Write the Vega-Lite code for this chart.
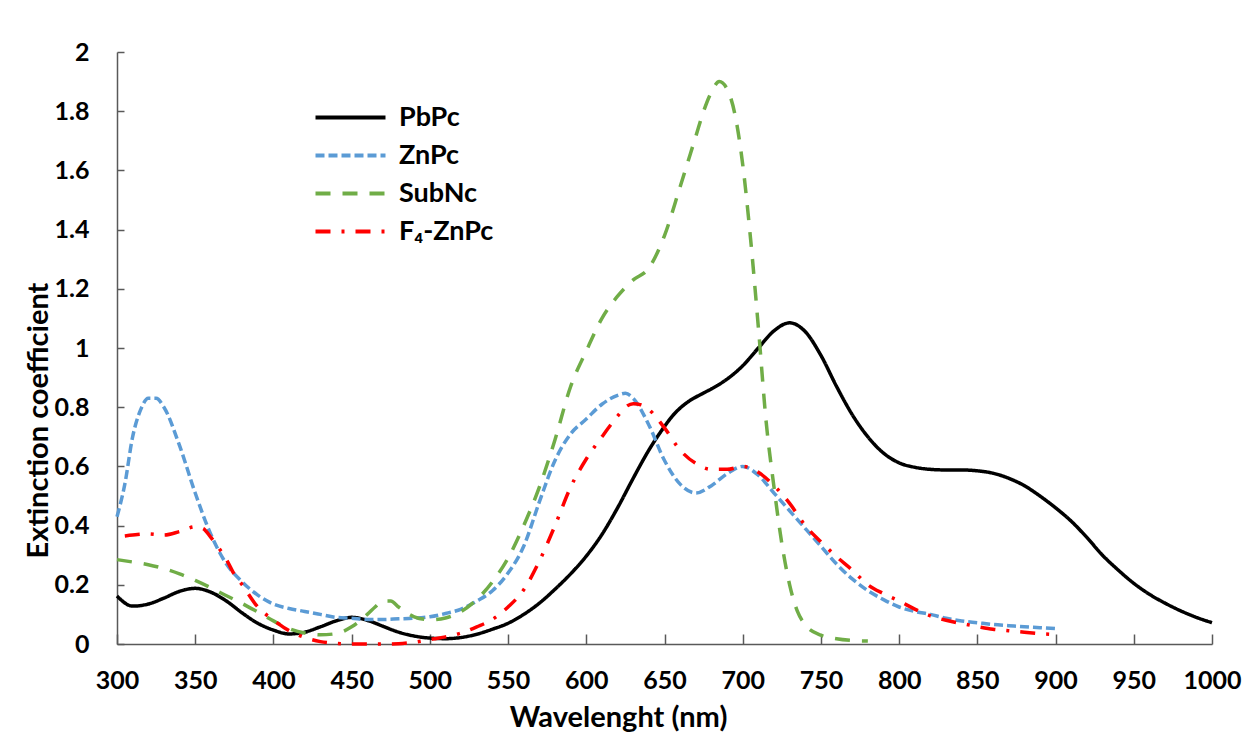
{
  "$schema": "https://vega.github.io/schema/vega-lite/v6.json",
  "autosize": "none",
  "width": 1095,
  "height": 592,
  "padding": {"left": 117, "top": 52, "right": 36, "bottom": 90},
  "background": "white",
  "config": {
    "view": {"stroke": null},
    "font": "Lato",
    "axis": {"grid": false, "domainColor": "#595959", "tickColor": "#595959", "domainWidth": 1.5, "tickWidth": 1.5, "labelColor": "#000", "titleColor": "#000", "labelFont": "Lato", "titleFont": "Lato", "labelFontWeight": "bold", "titleFontWeight": "bold", "labelFontSize": 25, "titleFontSize": 29, "labelOverlap": false, "labelFlush": false}
  },
  "data": {"values": [
    {"s":"PbPc","x":300,"y":0.162},{"s":"PbPc","x":310,"y":0.128},{"s":"PbPc","x":320,"y":0.135},{"s":"PbPc","x":330,"y":0.155},{"s":"PbPc","x":340,"y":0.178},{"s":"PbPc","x":350,"y":0.188},{"s":"PbPc","x":360,"y":0.175},{"s":"PbPc","x":370,"y":0.145},{"s":"PbPc","x":380,"y":0.105},{"s":"PbPc","x":390,"y":0.07},{"s":"PbPc","x":400,"y":0.047},{"s":"PbPc","x":410,"y":0.034},{"s":"PbPc","x":420,"y":0.04},{"s":"PbPc","x":430,"y":0.058},{"s":"PbPc","x":440,"y":0.078},{"s":"PbPc","x":450,"y":0.09},{"s":"PbPc","x":460,"y":0.08},{"s":"PbPc","x":470,"y":0.06},{"s":"PbPc","x":480,"y":0.04},{"s":"PbPc","x":490,"y":0.027},{"s":"PbPc","x":500,"y":0.02},{"s":"PbPc","x":510,"y":0.018},{"s":"PbPc","x":520,"y":0.022},{"s":"PbPc","x":530,"y":0.033},{"s":"PbPc","x":540,"y":0.05},{"s":"PbPc","x":550,"y":0.07},{"s":"PbPc","x":560,"y":0.1},{"s":"PbPc","x":570,"y":0.138},{"s":"PbPc","x":580,"y":0.185},{"s":"PbPc","x":590,"y":0.237},{"s":"PbPc","x":600,"y":0.297},{"s":"PbPc","x":610,"y":0.37},{"s":"PbPc","x":620,"y":0.46},{"s":"PbPc","x":630,"y":0.56},{"s":"PbPc","x":640,"y":0.655},{"s":"PbPc","x":650,"y":0.735},{"s":"PbPc","x":655,"y":0.77},{"s":"PbPc","x":660,"y":0.797},{"s":"PbPc","x":665,"y":0.818},{"s":"PbPc","x":670,"y":0.834},{"s":"PbPc","x":675,"y":0.848},{"s":"PbPc","x":680,"y":0.862},{"s":"PbPc","x":690,"y":0.895},{"s":"PbPc","x":700,"y":0.94},{"s":"PbPc","x":710,"y":1.0},{"s":"PbPc","x":720,"y":1.058},{"s":"PbPc","x":730,"y":1.085},{"s":"PbPc","x":740,"y":1.055},{"s":"PbPc","x":750,"y":0.975},{"s":"PbPc","x":760,"y":0.87},{"s":"PbPc","x":770,"y":0.775},{"s":"PbPc","x":780,"y":0.7},{"s":"PbPc","x":790,"y":0.645},{"s":"PbPc","x":800,"y":0.612},{"s":"PbPc","x":810,"y":0.597},{"s":"PbPc","x":820,"y":0.59},{"s":"PbPc","x":830,"y":0.588},{"s":"PbPc","x":840,"y":0.588},{"s":"PbPc","x":850,"y":0.585},{"s":"PbPc","x":860,"y":0.577},{"s":"PbPc","x":870,"y":0.56},{"s":"PbPc","x":880,"y":0.535},{"s":"PbPc","x":890,"y":0.5},{"s":"PbPc","x":900,"y":0.46},{"s":"PbPc","x":910,"y":0.415},{"s":"PbPc","x":920,"y":0.36},{"s":"PbPc","x":930,"y":0.3},{"s":"PbPc","x":940,"y":0.25},{"s":"PbPc","x":950,"y":0.205},{"s":"PbPc","x":960,"y":0.168},{"s":"PbPc","x":970,"y":0.138},{"s":"PbPc","x":980,"y":0.112},{"s":"PbPc","x":990,"y":0.09},{"s":"PbPc","x":1000,"y":0.072},
    {"s":"ZnPc","x":300,"y":0.43},{"s":"ZnPc","x":305,"y":0.54},{"s":"ZnPc","x":310,"y":0.7},{"s":"ZnPc","x":315,"y":0.79},{"s":"ZnPc","x":320,"y":0.83},{"s":"ZnPc","x":325,"y":0.83},{"s":"ZnPc","x":330,"y":0.8},{"s":"ZnPc","x":340,"y":0.67},{"s":"ZnPc","x":350,"y":0.51},{"s":"ZnPc","x":360,"y":0.37},{"s":"ZnPc","x":370,"y":0.27},{"s":"ZnPc","x":380,"y":0.21},{"s":"ZnPc","x":390,"y":0.165},{"s":"ZnPc","x":400,"y":0.135},{"s":"ZnPc","x":410,"y":0.12},{"s":"ZnPc","x":420,"y":0.11},{"s":"ZnPc","x":430,"y":0.1},{"s":"ZnPc","x":440,"y":0.09},{"s":"ZnPc","x":450,"y":0.087},{"s":"ZnPc","x":460,"y":0.083},{"s":"ZnPc","x":470,"y":0.083},{"s":"ZnPc","x":480,"y":0.085},{"s":"ZnPc","x":490,"y":0.087},{"s":"ZnPc","x":500,"y":0.092},{"s":"ZnPc","x":510,"y":0.103},{"s":"ZnPc","x":520,"y":0.118},{"s":"ZnPc","x":530,"y":0.145},{"s":"ZnPc","x":540,"y":0.18},{"s":"ZnPc","x":550,"y":0.24},{"s":"ZnPc","x":560,"y":0.33},{"s":"ZnPc","x":570,"y":0.48},{"s":"ZnPc","x":580,"y":0.62},{"s":"ZnPc","x":590,"y":0.71},{"s":"ZnPc","x":600,"y":0.76},{"s":"ZnPc","x":610,"y":0.81},{"s":"ZnPc","x":620,"y":0.84},{"s":"ZnPc","x":625,"y":0.847},{"s":"ZnPc","x":630,"y":0.83},{"s":"ZnPc","x":640,"y":0.74},{"s":"ZnPc","x":650,"y":0.62},{"s":"ZnPc","x":660,"y":0.54},{"s":"ZnPc","x":670,"y":0.51},{"s":"ZnPc","x":680,"y":0.535},{"s":"ZnPc","x":690,"y":0.575},{"s":"ZnPc","x":700,"y":0.6},{"s":"ZnPc","x":710,"y":0.57},{"s":"ZnPc","x":720,"y":0.51},{"s":"ZnPc","x":730,"y":0.45},{"s":"ZnPc","x":740,"y":0.39},{"s":"ZnPc","x":750,"y":0.33},{"s":"ZnPc","x":760,"y":0.27},{"s":"ZnPc","x":770,"y":0.22},{"s":"ZnPc","x":780,"y":0.18},{"s":"ZnPc","x":790,"y":0.15},{"s":"ZnPc","x":800,"y":0.125},{"s":"ZnPc","x":810,"y":0.11},{"s":"ZnPc","x":820,"y":0.1},{"s":"ZnPc","x":830,"y":0.087},{"s":"ZnPc","x":840,"y":0.078},{"s":"ZnPc","x":850,"y":0.072},{"s":"ZnPc","x":860,"y":0.066},{"s":"ZnPc","x":870,"y":0.062},{"s":"ZnPc","x":880,"y":0.058},{"s":"ZnPc","x":890,"y":0.055},{"s":"ZnPc","x":900,"y":0.052},
    {"s":"SubNc","x":300,"y":0.285},{"s":"SubNc","x":310,"y":0.277},{"s":"SubNc","x":320,"y":0.268},{"s":"SubNc","x":330,"y":0.255},{"s":"SubNc","x":340,"y":0.237},{"s":"SubNc","x":350,"y":0.215},{"s":"SubNc","x":360,"y":0.19},{"s":"SubNc","x":370,"y":0.163},{"s":"SubNc","x":380,"y":0.137},{"s":"SubNc","x":390,"y":0.108},{"s":"SubNc","x":400,"y":0.078},{"s":"SubNc","x":410,"y":0.052},{"s":"SubNc","x":420,"y":0.037},{"s":"SubNc","x":430,"y":0.031},{"s":"SubNc","x":440,"y":0.035},{"s":"SubNc","x":450,"y":0.058},{"s":"SubNc","x":460,"y":0.1},{"s":"SubNc","x":465,"y":0.125},{"s":"SubNc","x":470,"y":0.145},{"s":"SubNc","x":475,"y":0.145},{"s":"SubNc","x":480,"y":0.125},{"s":"SubNc","x":490,"y":0.092},{"s":"SubNc","x":500,"y":0.082},{"s":"SubNc","x":510,"y":0.088},{"s":"SubNc","x":520,"y":0.11},{"s":"SubNc","x":530,"y":0.15},{"s":"SubNc","x":540,"y":0.21},{"s":"SubNc","x":550,"y":0.29},{"s":"SubNc","x":560,"y":0.4},{"s":"SubNc","x":570,"y":0.53},{"s":"SubNc","x":580,"y":0.69},{"s":"SubNc","x":590,"y":0.87},{"s":"SubNc","x":600,"y":0.99},{"s":"SubNc","x":610,"y":1.1},{"s":"SubNc","x":620,"y":1.175},{"s":"SubNc","x":630,"y":1.23},{"s":"SubNc","x":640,"y":1.27},{"s":"SubNc","x":650,"y":1.38},{"s":"SubNc","x":660,"y":1.545},{"s":"SubNc","x":670,"y":1.715},{"s":"SubNc","x":675,"y":1.8},{"s":"SubNc","x":680,"y":1.865},{"s":"SubNc","x":685,"y":1.9},{"s":"SubNc","x":690,"y":1.875},{"s":"SubNc","x":695,"y":1.79},{"s":"SubNc","x":700,"y":1.62},{"s":"SubNc","x":705,"y":1.37},{"s":"SubNc","x":710,"y":1.07},{"s":"SubNc","x":715,"y":0.75},{"s":"SubNc","x":720,"y":0.53},{"s":"SubNc","x":725,"y":0.34},{"s":"SubNc","x":730,"y":0.2},{"s":"SubNc","x":735,"y":0.11},{"s":"SubNc","x":740,"y":0.065},{"s":"SubNc","x":750,"y":0.03},{"s":"SubNc","x":760,"y":0.018},{"s":"SubNc","x":770,"y":0.012},{"s":"SubNc","x":780,"y":0.01},
    {"s":"F₄-ZnPc","x":305,"y":0.365},{"s":"F₄-ZnPc","x":310,"y":0.368},{"s":"F₄-ZnPc","x":320,"y":0.372},{"s":"F₄-ZnPc","x":330,"y":0.368},{"s":"F₄-ZnPc","x":340,"y":0.38},{"s":"F₄-ZnPc","x":350,"y":0.396},{"s":"F₄-ZnPc","x":355,"y":0.39},{"s":"F₄-ZnPc","x":360,"y":0.36},{"s":"F₄-ZnPc","x":365,"y":0.325},{"s":"F₄-ZnPc","x":370,"y":0.285},{"s":"F₄-ZnPc","x":375,"y":0.235},{"s":"F₄-ZnPc","x":380,"y":0.2},{"s":"F₄-ZnPc","x":390,"y":0.125},{"s":"F₄-ZnPc","x":400,"y":0.081},{"s":"F₄-ZnPc","x":410,"y":0.045},{"s":"F₄-ZnPc","x":420,"y":0.022},{"s":"F₄-ZnPc","x":430,"y":0.008},{"s":"F₄-ZnPc","x":440,"y":0.002},{"s":"F₄-ZnPc","x":450,"y":0},{"s":"F₄-ZnPc","x":460,"y":0},{"s":"F₄-ZnPc","x":470,"y":0},{"s":"F₄-ZnPc","x":480,"y":0.001},{"s":"F₄-ZnPc","x":490,"y":0.006},{"s":"F₄-ZnPc","x":500,"y":0.015},{"s":"F₄-ZnPc","x":510,"y":0.024},{"s":"F₄-ZnPc","x":520,"y":0.037},{"s":"F₄-ZnPc","x":530,"y":0.058},{"s":"F₄-ZnPc","x":540,"y":0.083},{"s":"F₄-ZnPc","x":550,"y":0.125},{"s":"F₄-ZnPc","x":560,"y":0.183},{"s":"F₄-ZnPc","x":570,"y":0.28},{"s":"F₄-ZnPc","x":580,"y":0.4},{"s":"F₄-ZnPc","x":590,"y":0.53},{"s":"F₄-ZnPc","x":600,"y":0.625},{"s":"F₄-ZnPc","x":610,"y":0.7},{"s":"F₄-ZnPc","x":620,"y":0.77},{"s":"F₄-ZnPc","x":625,"y":0.8},{"s":"F₄-ZnPc","x":630,"y":0.812},{"s":"F₄-ZnPc","x":635,"y":0.808},{"s":"F₄-ZnPc","x":640,"y":0.792},{"s":"F₄-ZnPc","x":650,"y":0.73},{"s":"F₄-ZnPc","x":660,"y":0.655},{"s":"F₄-ZnPc","x":670,"y":0.61},{"s":"F₄-ZnPc","x":680,"y":0.59},{"s":"F₄-ZnPc","x":690,"y":0.59},{"s":"F₄-ZnPc","x":700,"y":0.6},{"s":"F₄-ZnPc","x":710,"y":0.58},{"s":"F₄-ZnPc","x":720,"y":0.535},{"s":"F₄-ZnPc","x":730,"y":0.475},{"s":"F₄-ZnPc","x":740,"y":0.4},{"s":"F₄-ZnPc","x":750,"y":0.345},{"s":"F₄-ZnPc","x":760,"y":0.295},{"s":"F₄-ZnPc","x":770,"y":0.25},{"s":"F₄-ZnPc","x":780,"y":0.2},{"s":"F₄-ZnPc","x":790,"y":0.17},{"s":"F₄-ZnPc","x":800,"y":0.145},{"s":"F₄-ZnPc","x":810,"y":0.118},{"s":"F₄-ZnPc","x":820,"y":0.095},{"s":"F₄-ZnPc","x":830,"y":0.08},{"s":"F₄-ZnPc","x":840,"y":0.069},{"s":"F₄-ZnPc","x":850,"y":0.059},{"s":"F₄-ZnPc","x":860,"y":0.05},{"s":"F₄-ZnPc","x":870,"y":0.045},{"s":"F₄-ZnPc","x":880,"y":0.04},{"s":"F₄-ZnPc","x":890,"y":0.035},{"s":"F₄-ZnPc","x":900,"y":0.032}
  ]},
  "mark": {"type": "line", "interpolate": "monotone", "strokeWidth": 3.5, "strokeCap": "butt"},
  "encoding": {
    "x": {"field": "x", "type": "quantitative", "scale": {"domain": [300, 1000], "nice": false},
      "axis": {"title": "Wavelenght (nm)", "values": [300,350,400,450,500,550,600,650,700,750,800,850,900,950,1000], "format": "d", "tickSize": -10, "labelPadding": 34, "titleX": 501, "titleY": 82, "titleBaseline": "alphabetic"}},
    "y": {"field": "y", "type": "quantitative", "scale": {"domain": [0, 2], "nice": false},
      "axis": {"title": "Extinction coefficient", "values": [0,0.2,0.4,0.6,0.8,1,1.2,1.4,1.6,1.8,2], "format": "~g", "tickSize": -7, "labelPadding": 35, "titleX": -70, "titleY": 368, "titleBaseline": "alphabetic"}},
    "color": {"field": "s", "type": "nominal", "sort": ["PbPc","ZnPc","SubNc","F₄-ZnPc"],
      "scale": {"domain": ["PbPc","ZnPc","SubNc","F₄-ZnPc"], "range": ["#000000","#5B9BD5","#70AD47","#FF0000"]},
      "legend": {"title": null, "orient": "none", "legendX": 220, "legendY": 52, "padding": 0, "symbolType": "M-5,0H5", "symbolSize": 196, "symbolStrokeWidth": 4, "labelOffset": 35, "rowPadding": 10, "labelFont": "Lato", "labelFontWeight": "bold", "labelFontSize": 27, "labelColor": "#000", "labelBaseline": "middle"}},
    "strokeDash": {"field": "s", "type": "nominal", "sort": ["PbPc","ZnPc","SubNc","F₄-ZnPc"],
      "scale": {"domain": ["PbPc","ZnPc","SubNc","F₄-ZnPc"], "range": [[1,0],[9,4],[15,12],[15,11,3,11]]},
      "legend": {"title": null, "orient": "none", "legendX": 220, "legendY": 52, "padding": 0, "symbolType": "M-5,0H5", "symbolSize": 196, "symbolStrokeWidth": 4, "labelOffset": 35, "rowPadding": 10, "labelFont": "Lato", "labelFontWeight": "bold", "labelFontSize": 27, "labelColor": "#000", "labelBaseline": "middle"}}
  }
}
